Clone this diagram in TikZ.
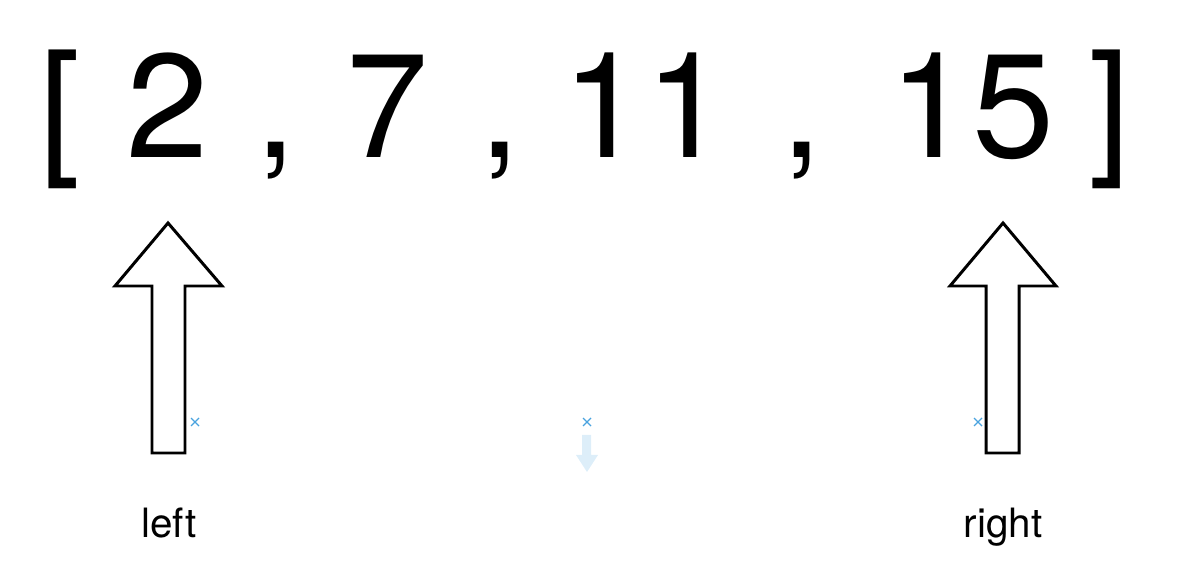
\documentclass[tikz,border=0pt]{standalone}
\usepackage{fontspec}
\setmainfont{TeX Gyre Heros}
\definecolor{markblue}{HTML}{4AA3DF}
\definecolor{paleblue}{HTML}{DDEEF9}

\begin{document}
\begin{tikzpicture}[x=0.02cm, y=-0.02cm,
    big/.style={anchor=base, inner sep=0pt, font=\fontsize{84}{84}\selectfont},
    lbl/.style={anchor=base, inner sep=0pt, font=\fontsize{23}{23}\selectfont},
    blockarrow/.style={draw=black, fill=white, line width=1.7pt, line join=miter},
    xmark/.style={draw=markblue, line width=0.7pt}]
    \useasboundingbox (0,0) rectangle (1200,563);

    % the array
    \node[big] (lbr) at (60,158) {[};
    \node[big] (n2) at (168,158) {2};
    \node[big] (c1) at (276,158) {,};
    \node[big] (n7) at (388,158) {7};
    \node[big] (c2) at (500,158) {,};
    \node[big] (n11) at (645,158) {11};
    \node[big] (c3) at (802,158) {,};
    \node[big] (n15) at (972,158) {15};
    \node[big] (rbr) at (1110,158) {]};

    % pointers
    \draw[blockarrow] (168,223) -- (222,286) -- (185,286) -- (185,453) -- (152,453) -- (152,286) -- (115,286) -- cycle; % left pointer
    \draw[blockarrow] (1003,223) -- (1056,286) -- (1019,286) -- (1019,453) -- (986,453) -- (986,286) -- (950,286) -- cycle; % right pointer

    % labels
    \node[lbl] (ptrleft) at (169,538) {left};
    \node[lbl] (ptrright) at (1003,538) {right};

    % extras
    \draw[xmark, shift={(195,422)}] (-4,-4) -- (4,4) (-4,4) -- (4,-4);
    \draw[xmark, shift={(587,422)}] (-4,-4) -- (4,4) (-4,4) -- (4,-4);
    \draw[xmark, shift={(978,422)}] (-4,-4) -- (4,4) (-4,4) -- (4,-4);
    \fill[paleblue] (582,435) -- (591,435) -- (591,455) -- (598,455) -- (587,472) -- (576,455) -- (582,455) -- cycle; % faint down arrow

\end{tikzpicture}
\end{document}
